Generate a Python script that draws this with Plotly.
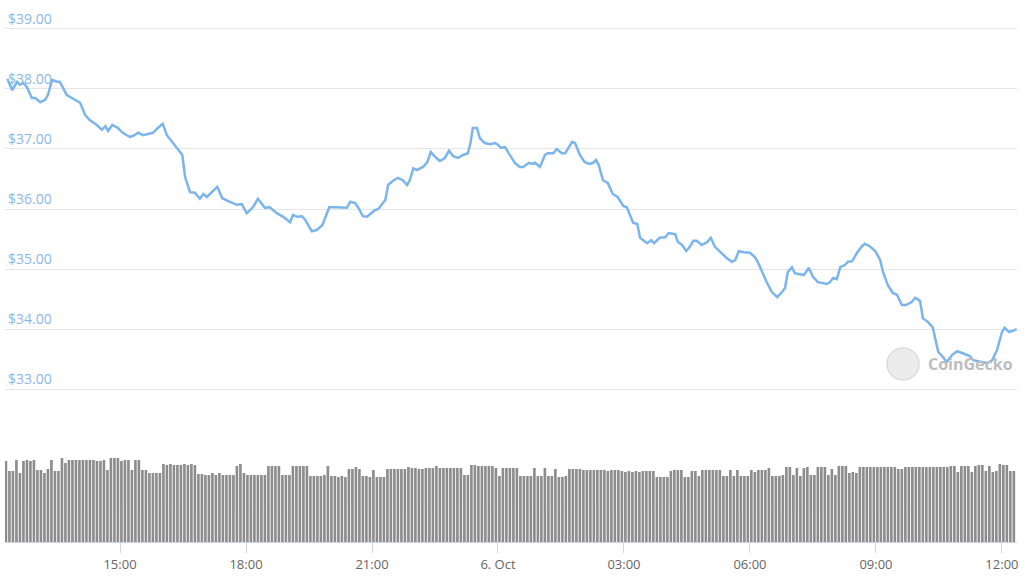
import plotly.graph_objects as go
import pandas as pd

# ---- price series (time, USD) ----
price_times = [
    "2021-10-05 12:19", "2021-10-05 12:26", "2021-10-05 12:33", "2021-10-05 12:37", "2021-10-05 12:42",
    "2021-10-05 12:47", "2021-10-05 12:54", "2021-10-05 12:59", "2021-10-05 13:06", "2021-10-05 13:13",
    "2021-10-05 13:17", "2021-10-05 13:23", "2021-10-05 13:30", "2021-10-05 13:34", "2021-10-05 13:44",
    "2021-10-05 13:51", "2021-10-05 14:03", "2021-10-05 14:10", "2021-10-05 14:17", "2021-10-05 14:27",
    "2021-10-05 14:34", "2021-10-05 14:39", "2021-10-05 14:43", "2021-10-05 14:49", "2021-10-05 14:57",
    "2021-10-05 15:04", "2021-10-05 15:14", "2021-10-05 15:19", "2021-10-05 15:26", "2021-10-05 15:33",
    "2021-10-05 15:40", "2021-10-05 15:47", "2021-10-05 15:54", "2021-10-05 16:01", "2021-10-05 16:07",
    "2021-10-05 16:16", "2021-10-05 16:29", "2021-10-05 16:33", "2021-10-05 16:40", "2021-10-05 16:47",
    "2021-10-05 16:54", "2021-10-05 16:59", "2021-10-05 17:04", "2021-10-05 17:19", "2021-10-05 17:26",
    "2021-10-05 17:37", "2021-10-05 17:47", "2021-10-05 17:54", "2021-10-05 18:01", "2021-10-05 18:10",
    "2021-10-05 18:17", "2021-10-05 18:27", "2021-10-05 18:34", "2021-10-05 18:44", "2021-10-05 18:53",
    "2021-10-05 19:03", "2021-10-05 19:07", "2021-10-05 19:13", "2021-10-05 19:20", "2021-10-05 19:24",
    "2021-10-05 19:34", "2021-10-05 19:41", "2021-10-05 19:49", "2021-10-05 19:53", "2021-10-05 19:59",
    "2021-10-05 20:10", "2021-10-05 20:24", "2021-10-05 20:29", "2021-10-05 20:36", "2021-10-05 20:40",
    "2021-10-05 20:47", "2021-10-05 20:53", "2021-10-05 21:04", "2021-10-05 21:09", "2021-10-05 21:14",
    "2021-10-05 21:19", "2021-10-05 21:23", "2021-10-05 21:30", "2021-10-05 21:37", "2021-10-05 21:44",
    "2021-10-05 21:50", "2021-10-05 21:54", "2021-10-05 21:59", "2021-10-05 22:04", "2021-10-05 22:13",
    "2021-10-05 22:19", "2021-10-05 22:24", "2021-10-05 22:30", "2021-10-05 22:37", "2021-10-05 22:44",
    "2021-10-05 22:50", "2021-10-05 22:56", "2021-10-05 23:03", "2021-10-05 23:10", "2021-10-05 23:17",
    "2021-10-05 23:21", "2021-10-05 23:24", "2021-10-05 23:30", "2021-10-05 23:34", "2021-10-05 23:41",
    "2021-10-05 23:49", "2021-10-05 23:56", "2021-10-06 00:00", "2021-10-06 00:04", "2021-10-06 00:10",
    "2021-10-06 00:17", "2021-10-06 00:24", "2021-10-06 00:31", "2021-10-06 00:36", "2021-10-06 00:44",
    "2021-10-06 00:49", "2021-10-06 00:53", "2021-10-06 01:00", "2021-10-06 01:07", "2021-10-06 01:11",
    "2021-10-06 01:19", "2021-10-06 01:24", "2021-10-06 01:31", "2021-10-06 01:36", "2021-10-06 01:46",
    "2021-10-06 01:50", "2021-10-06 01:57", "2021-10-06 02:04", "2021-10-06 02:11", "2021-10-06 02:16",
    "2021-10-06 02:20", "2021-10-06 02:24", "2021-10-06 02:30", "2021-10-06 02:37", "2021-10-06 02:44",
    "2021-10-06 02:51", "2021-10-06 02:59", "2021-10-06 03:04", "2021-10-06 03:13", "2021-10-06 03:19",
    "2021-10-06 03:23", "2021-10-06 03:33", "2021-10-06 03:39", "2021-10-06 03:43", "2021-10-06 03:51",
    "2021-10-06 03:59", "2021-10-06 04:04", "2021-10-06 04:13", "2021-10-06 04:17", "2021-10-06 04:23",
    "2021-10-06 04:29", "2021-10-06 04:34", "2021-10-06 04:39", "2021-10-06 04:44", "2021-10-06 04:51",
    "2021-10-06 04:59", "2021-10-06 05:04", "2021-10-06 05:10", "2021-10-06 05:19", "2021-10-06 05:27",
    "2021-10-06 05:34", "2021-10-06 05:39", "2021-10-06 05:44", "2021-10-06 05:51", "2021-10-06 06:00",
    "2021-10-06 06:07", "2021-10-06 06:11", "2021-10-06 06:17", "2021-10-06 06:24", "2021-10-06 06:31",
    "2021-10-06 06:39", "2021-10-06 06:46", "2021-10-06 06:50", "2021-10-06 06:54", "2021-10-06 07:00",
    "2021-10-06 07:04", "2021-10-06 07:11", "2021-10-06 07:17", "2021-10-06 07:24", "2021-10-06 07:30",
    "2021-10-06 07:37", "2021-10-06 07:50", "2021-10-06 07:54", "2021-10-06 07:59", "2021-10-06 08:04",
    "2021-10-06 08:09", "2021-10-06 08:16", "2021-10-06 08:20", "2021-10-06 08:26", "2021-10-06 08:33",
    "2021-10-06 08:40", "2021-10-06 08:44", "2021-10-06 08:51", "2021-10-06 08:59", "2021-10-06 09:06",
    "2021-10-06 09:10", "2021-10-06 09:17", "2021-10-06 09:24", "2021-10-06 09:30", "2021-10-06 09:37",
    "2021-10-06 09:43", "2021-10-06 09:51", "2021-10-06 09:56", "2021-10-06 10:03", "2021-10-06 10:07",
    "2021-10-06 10:14", "2021-10-06 10:21", "2021-10-06 10:29", "2021-10-06 10:36", "2021-10-06 10:41",
    "2021-10-06 10:49", "2021-10-06 10:56", "2021-10-06 11:03", "2021-10-06 11:10", "2021-10-06 11:14",
    "2021-10-06 11:19", "2021-10-06 11:29", "2021-10-06 11:39", "2021-10-06 11:46", "2021-10-06 11:53",
    "2021-10-06 12:00", "2021-10-06 12:04", "2021-10-06 12:10", "2021-10-06 12:16", "2021-10-06 12:21",
]
price_usd = [
    38.17, 37.98, 38.12, 38.07, 38.10, 38.03, 37.85, 37.85, 37.78, 37.82,
    37.90, 38.15, 38.12, 38.12, 37.90, 37.85, 37.77, 37.57, 37.48, 37.40,
    37.32, 37.38, 37.30, 37.40, 37.35, 37.27, 37.20, 37.22, 37.27, 37.23,
    37.25, 37.27, 37.35, 37.42, 37.23, 37.10, 36.90, 36.53, 36.28, 36.27,
    36.17, 36.25, 36.20, 36.37, 36.18, 36.12, 36.07, 36.08, 35.93, 36.03,
    36.17, 36.02, 36.03, 35.93, 35.87, 35.78, 35.90, 35.87, 35.88, 35.83,
    35.63, 35.65, 35.73, 35.85, 36.03, 36.03, 36.02, 36.12, 36.10, 36.03,
    35.88, 35.87, 35.98, 36.00, 36.07, 36.15, 36.40, 36.47, 36.52, 36.48,
    36.40, 36.48, 36.68, 36.65, 36.70, 36.78, 36.95, 36.87, 36.80, 36.85,
    36.97, 36.88, 36.85, 36.90, 36.93, 37.12, 37.35, 37.35, 37.18, 37.10,
    37.08, 37.10, 37.07, 37.02, 37.03, 36.90, 36.77, 36.70, 36.70, 36.77,
    36.75, 36.77, 36.70, 36.90, 36.93, 36.93, 37.00, 36.93, 36.93, 37.12,
    37.10, 36.90, 36.78, 36.75, 36.77, 36.82, 36.73, 36.48, 36.43, 36.25,
    36.20, 36.05, 36.03, 35.77, 35.75, 35.52, 35.43, 35.48, 35.43, 35.52,
    35.53, 35.60, 35.58, 35.45, 35.40, 35.30, 35.37, 35.47, 35.47, 35.40,
    35.45, 35.52, 35.37, 35.27, 35.18, 35.12, 35.15, 35.30, 35.28, 35.27,
    35.20, 35.12, 34.95, 34.78, 34.62, 34.53, 34.62, 34.68, 34.95, 35.03,
    34.93, 34.92, 34.90, 35.02, 34.87, 34.78, 34.75, 34.78, 34.85, 34.83,
    35.03, 35.07, 35.12, 35.13, 35.27, 35.38, 35.42, 35.38, 35.30, 35.15,
    34.95, 34.73, 34.60, 34.57, 34.40, 34.40, 34.45, 34.52, 34.47, 34.18,
    34.12, 34.03, 33.62, 33.53, 33.45, 33.57, 33.63, 33.60, 33.57, 33.55,
    33.48, 33.45, 33.43, 33.48, 33.65, 33.95, 34.02, 33.95, 33.97, 34.00,
]

# ---- volume bars (5-minute buckets, relative units) ----
volume_start = "2021-10-05 12:17"
volume_step_minutes = 5
volume = [
    81, 71, 71, 82, 69, 81, 82, 81, 82, 72, 72, 69, 73, 82, 71, 71, 84, 79,
    82, 82, 82, 82, 82, 82, 82, 82, 81, 81, 82, 72, 84, 84, 84, 81, 82, 82,
    72, 82, 82, 72, 72, 69, 69, 69, 69, 78, 77, 78, 77, 77, 77, 78, 77, 78,
    77, 68, 68, 67, 67, 69, 67, 69, 67, 67, 67, 67, 76, 78, 69, 67, 67, 67,
    67, 67, 67, 76, 76, 76, 76, 67, 67, 67, 76, 76, 76, 76, 76, 66, 66, 66,
    66, 67, 76, 66, 66, 65, 66, 65, 73, 73, 75, 73, 66, 66, 65, 72, 65, 65,
    65, 73, 73, 73, 73, 73, 73, 75, 74, 74, 73, 73, 74, 74, 74, 76, 74, 74,
    74, 74, 74, 74, 74, 67, 67, 77, 77, 76, 76, 76, 76, 76, 74, 66, 74, 74,
    74, 74, 74, 66, 66, 66, 66, 74, 66, 66, 74, 66, 66, 73, 65, 65, 66, 73,
    73, 73, 73, 72, 72, 72, 72, 72, 72, 72, 71, 72, 72, 72, 71, 70, 71, 70,
    71, 70, 71, 71, 71, 71, 65, 65, 65, 65, 71, 72, 72, 72, 65, 65, 71, 71,
    66, 72, 72, 72, 72, 72, 72, 66, 66, 72, 66, 72, 66, 66, 66, 72, 70, 72,
    72, 72, 74, 66, 66, 66, 67, 75, 75, 67, 74, 66, 74, 75, 67, 67, 75, 75,
    75, 67, 73, 67, 76, 76, 76, 69, 70, 69, 75, 75, 75, 75, 75, 75, 75, 75,
    75, 75, 75, 73, 73, 75, 75, 75, 75, 75, 75, 75, 75, 75, 75, 75, 75, 75,
    76, 76, 70, 76, 76, 76, 70, 76, 77, 77, 71, 76, 70, 71, 78, 77, 77, 71,
    71,
]

# ---- axis tick labels ----
x_tick_times = ["2021-10-05 15:00", "2021-10-05 18:00", "2021-10-05 21:00", "2021-10-06 00:00",
                "2021-10-06 03:00", "2021-10-06 06:00", "2021-10-06 09:00", "2021-10-06 12:00"]
x_tick_labels = ["15:00", "18:00", "21:00", "6. Oct", "03:00", "06:00", "09:00", "12:00"]
y_tick_values = [33, 34, 35, 36, 37, 38, 39]
y_tick_labels = ["$33.00", "$34.00", "$35.00", "$36.00", "$37.00", "$38.00", "$39.00"]

volume_times = pd.date_range(volume_start, periods=len(volume), freq=f"{volume_step_minutes}min")

fig = go.Figure()
fig.add_trace(go.Bar(
    x=volume_times, y=volume, yaxis="y2",
    marker=dict(color="#8c8c8c", line=dict(width=0)),
    hoverinfo="skip", showlegend=False,
))
fig.add_trace(go.Scatter(
    x=pd.to_datetime(price_times), y=price_usd, mode="lines",
    line=dict(color="#7cb5ec", width=2.5, shape="linear"),
    showlegend=False,
))

fig.update_layout(
    width=1033, height=576,
    margin=dict(l=5, r=16, t=0, b=34, autoexpand=False),
    paper_bgcolor="white", plot_bgcolor="white",
    font=dict(family="Open Sans, sans-serif"),
    bargap=0.25,
    hovermode=False,
    xaxis=dict(
        type="date", anchor="y2", automargin=False,
        range=["2021-10-05 12:15:40", "2021-10-06 12:21:30"],
        tickvals=x_tick_times, ticktext=x_tick_labels,
        showgrid=False, showline=True, linecolor="#ccd6eb", linewidth=1,
        ticks="outside", ticklen=10, tickcolor="#ccd6eb",
        tickfont=dict(size=13, color="#666666"),
        zeroline=False,
    ),
    yaxis=dict(
        domain=[0.2, 1.0], automargin=False,
        range=[32.257, 39.483],
        tickvals=y_tick_values, ticktext=y_tick_labels,
        ticklabelposition="inside top",
        tickfont=dict(size=14, color="#8eb6e4"),
        showgrid=True, gridcolor="#e6e6e6", gridwidth=1,
        zeroline=False, showline=False,
    ),
    yaxis2=dict(
        domain=[0.0, 0.2], range=[0, 108.4], automargin=False,
        showgrid=False, showticklabels=False, zeroline=False, showline=False,
    ),
    shapes=[dict(
        type="circle", xref="paper", yref="paper",
        x0=0.8715, x1=0.9032, y0=0.2989, y1=0.3579,
        fillcolor="#ececec", line=dict(color="#dcdcdc", width=1.5), layer="above",
    )],
    annotations=[dict(
        text="<b>CoinGecko</b>", xref="paper", yref="paper", x=0.9105, y=0.3284,
        showarrow=False, font=dict(family="Open Sans, sans-serif", size=16, color="#bdbdbd"),
        xanchor="left", yanchor="middle",
    )],
)

fig.write_html(
    "out.html",
    config={"displayModeBar": False, "staticPlot": True},
    post_script="document.body.style.margin='0';document.body.style.overflow='hidden';",
)
